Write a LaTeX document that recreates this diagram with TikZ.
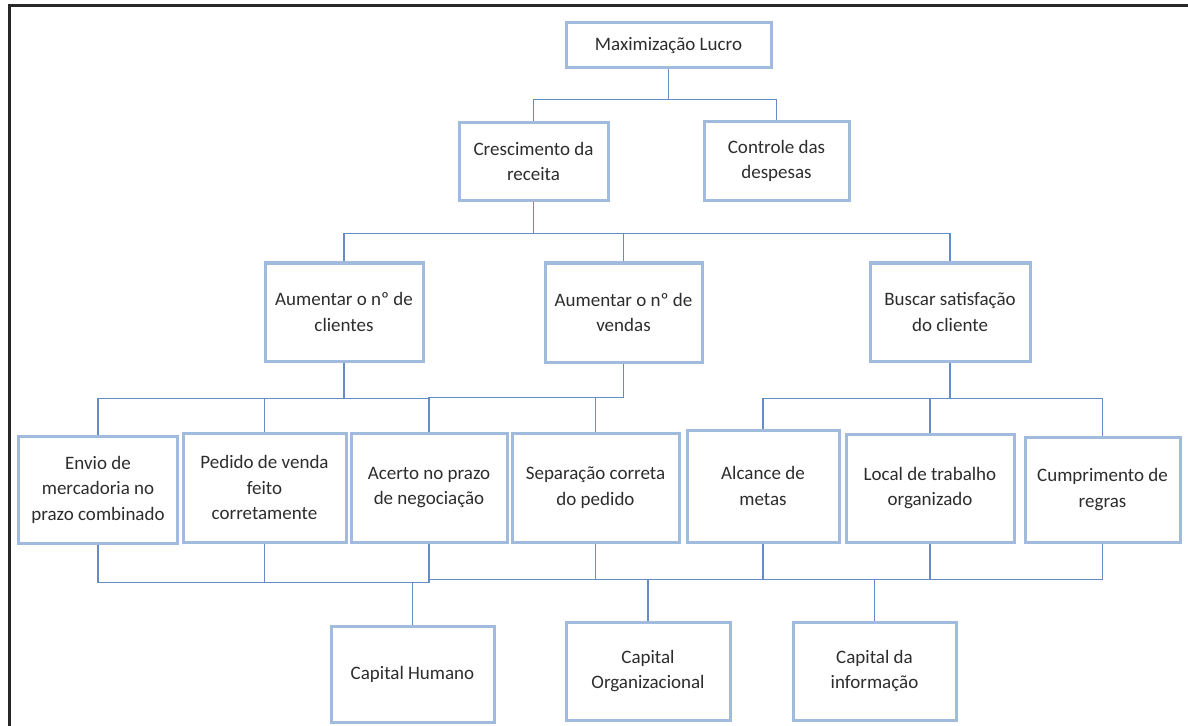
\documentclass[tikz,border=0pt]{standalone}
\usepackage{fontspec}
\setmainfont{Carlito}
\definecolor{boxc}{RGB}{160,187,222}
\definecolor{linec}{RGB}{100,140,198}
\definecolor{txt}{RGB}{45,45,45}
\definecolor{framec}{RGB}{40,40,40}
\newcommand{\boxfont}{\fontsize{19bp}{25.5bp}\selectfont}
\tikzset{
  box/.style={draw=boxc, line width=3bp, fill=white, align=center,
              inner sep=0pt, text=txt, font=\boxfont},
  conn/.style={draw=linec, line width=1.7bp},
}
\begin{document}
\begin{tikzpicture}[x=1bp, y=-1bp]
\useasboundingbox (0,0) rectangle (1188,726);
\fill[white] (0,0) rectangle (1188,726);
% outer frame
\draw[framec, line width=2.5bp] (1200,5.5) -- (9.5,5.5) -- (9.5,740);

% level 1
\node[box, minimum width=205bp, minimum height=45bp] (max) at (668.5,45.5) {Maximização Lucro};
% level 2
\node[box, minimum width=149bp, minimum height=77bp] (cresc) at (533.5,161.5) {Crescimento da\\receita};
\node[box, minimum width=145bp, minimum height=78bp] (ctrl) at (776.5,161) {Controle das\\despesas};
% level 3
\node[box, minimum width=158bp, minimum height=98bp] (acli) at (344,312) {Aumentar o nº de\\clientes};
\node[box, minimum width=157bp, minimum height=99bp] (aven) at (623.5,312.5) {Aumentar o nº de\\vendas};
\node[box, minimum width=160bp, minimum height=98bp] (busc) at (950,312) {Buscar satisfação\\do cliente};
% level 4
\node[box, minimum width=158bp, minimum height=107bp] (envio) at (98,489.5) {Envio de\\mercadoria no\\prazo combinado};
\node[box, minimum width=163bp, minimum height=109bp] (ped) at (264.5,487.5) {Pedido de venda\\feito\\corretamente};
\node[box, minimum width=156bp, minimum height=109bp] (acer) at (429,487.5) {Acerto no prazo\\de negociação};
\node[box, minimum width=167bp, minimum height=109bp] (sep) at (595.5,487.5) {Separação correta\\do pedido};
\node[box, minimum width=152bp, minimum height=112bp] (alc) at (763,486) {Alcance de\\metas};
\node[box, minimum width=168bp, minimum height=108bp] (loc) at (930,488) {Local de trabalho\\organizado};
\node[box, minimum width=155bp, minimum height=105bp] (cump) at (1102.5,489.5) {Cumprimento de\\regras};
% level 5
\node[box, minimum width=163bp, minimum height=96bp] (caph) at (412.5,674) {Capital Humano};
\node[box, minimum width=164bp, minimum height=98bp] (capo) at (648,671) {Capital\\Organizacional};
\node[box, minimum width=163bp, minimum height=98bp] (capi) at (874.5,671) {Capital da\\informação};

% connectors: level 1 -> 2
\path (max.south) ++(0,30) coordinate (b1);
\draw[conn] (max.south) -- (b1) -| (cresc.north);
\draw[conn] (b1) -| (ctrl.north);
% level 2 -> 3
\path (cresc.south) ++(0,32) coordinate (b2);
\draw[conn] (cresc.south) -- (b2) -| (acli.north);
\draw[conn] (b2) -| (aven.north);
\draw[conn] (b2) -| (busc.north);
% level 3 -> 4
\path (acli.south) ++(0,36) coordinate (b3);
\draw[conn] (acli.south) -- (b3) -| (envio.north);
\draw[conn] (b3) -| (ped.north);
\draw[conn] (b3) -| (acer.north);
\path (aven.south) ++(0,34) coordinate (b4);
\draw[conn] (aven.south) -- (b4) -| (acer.north);
\draw[conn] (b4) -| (sep.north);
\path (busc.south) ++(0,36) coordinate (b5);
\draw[conn] (busc.south) -- (b5) -| (alc.north);
\draw[conn] (b5) -| (loc.north);
\draw[conn] (b5) -| (cump.north);
% level 4 -> 5
\path (caph.north) ++(0,-42) coordinate (b6);
\draw[conn] (caph.north) -- (b6) -| (envio.south);
\draw[conn] (b6) -| (ped.south);
\draw[conn] (b6) -| (acer.south);
\path (capo.north) ++(0,-41) coordinate (b7);
\draw[conn] (capo.north) -- (b7) -| (acer.south);
\draw[conn] (b7) -| (sep.south);
\draw[conn] (b7) -| (alc.south);
\path (capi.north) ++(0,-41) coordinate (b8);
\draw[conn] (capi.north) -- (b8) -| (alc.south);
\draw[conn] (b8) -| (loc.south);
\draw[conn] (b8) -| (cump.south);
\end{tikzpicture}
\end{document}
